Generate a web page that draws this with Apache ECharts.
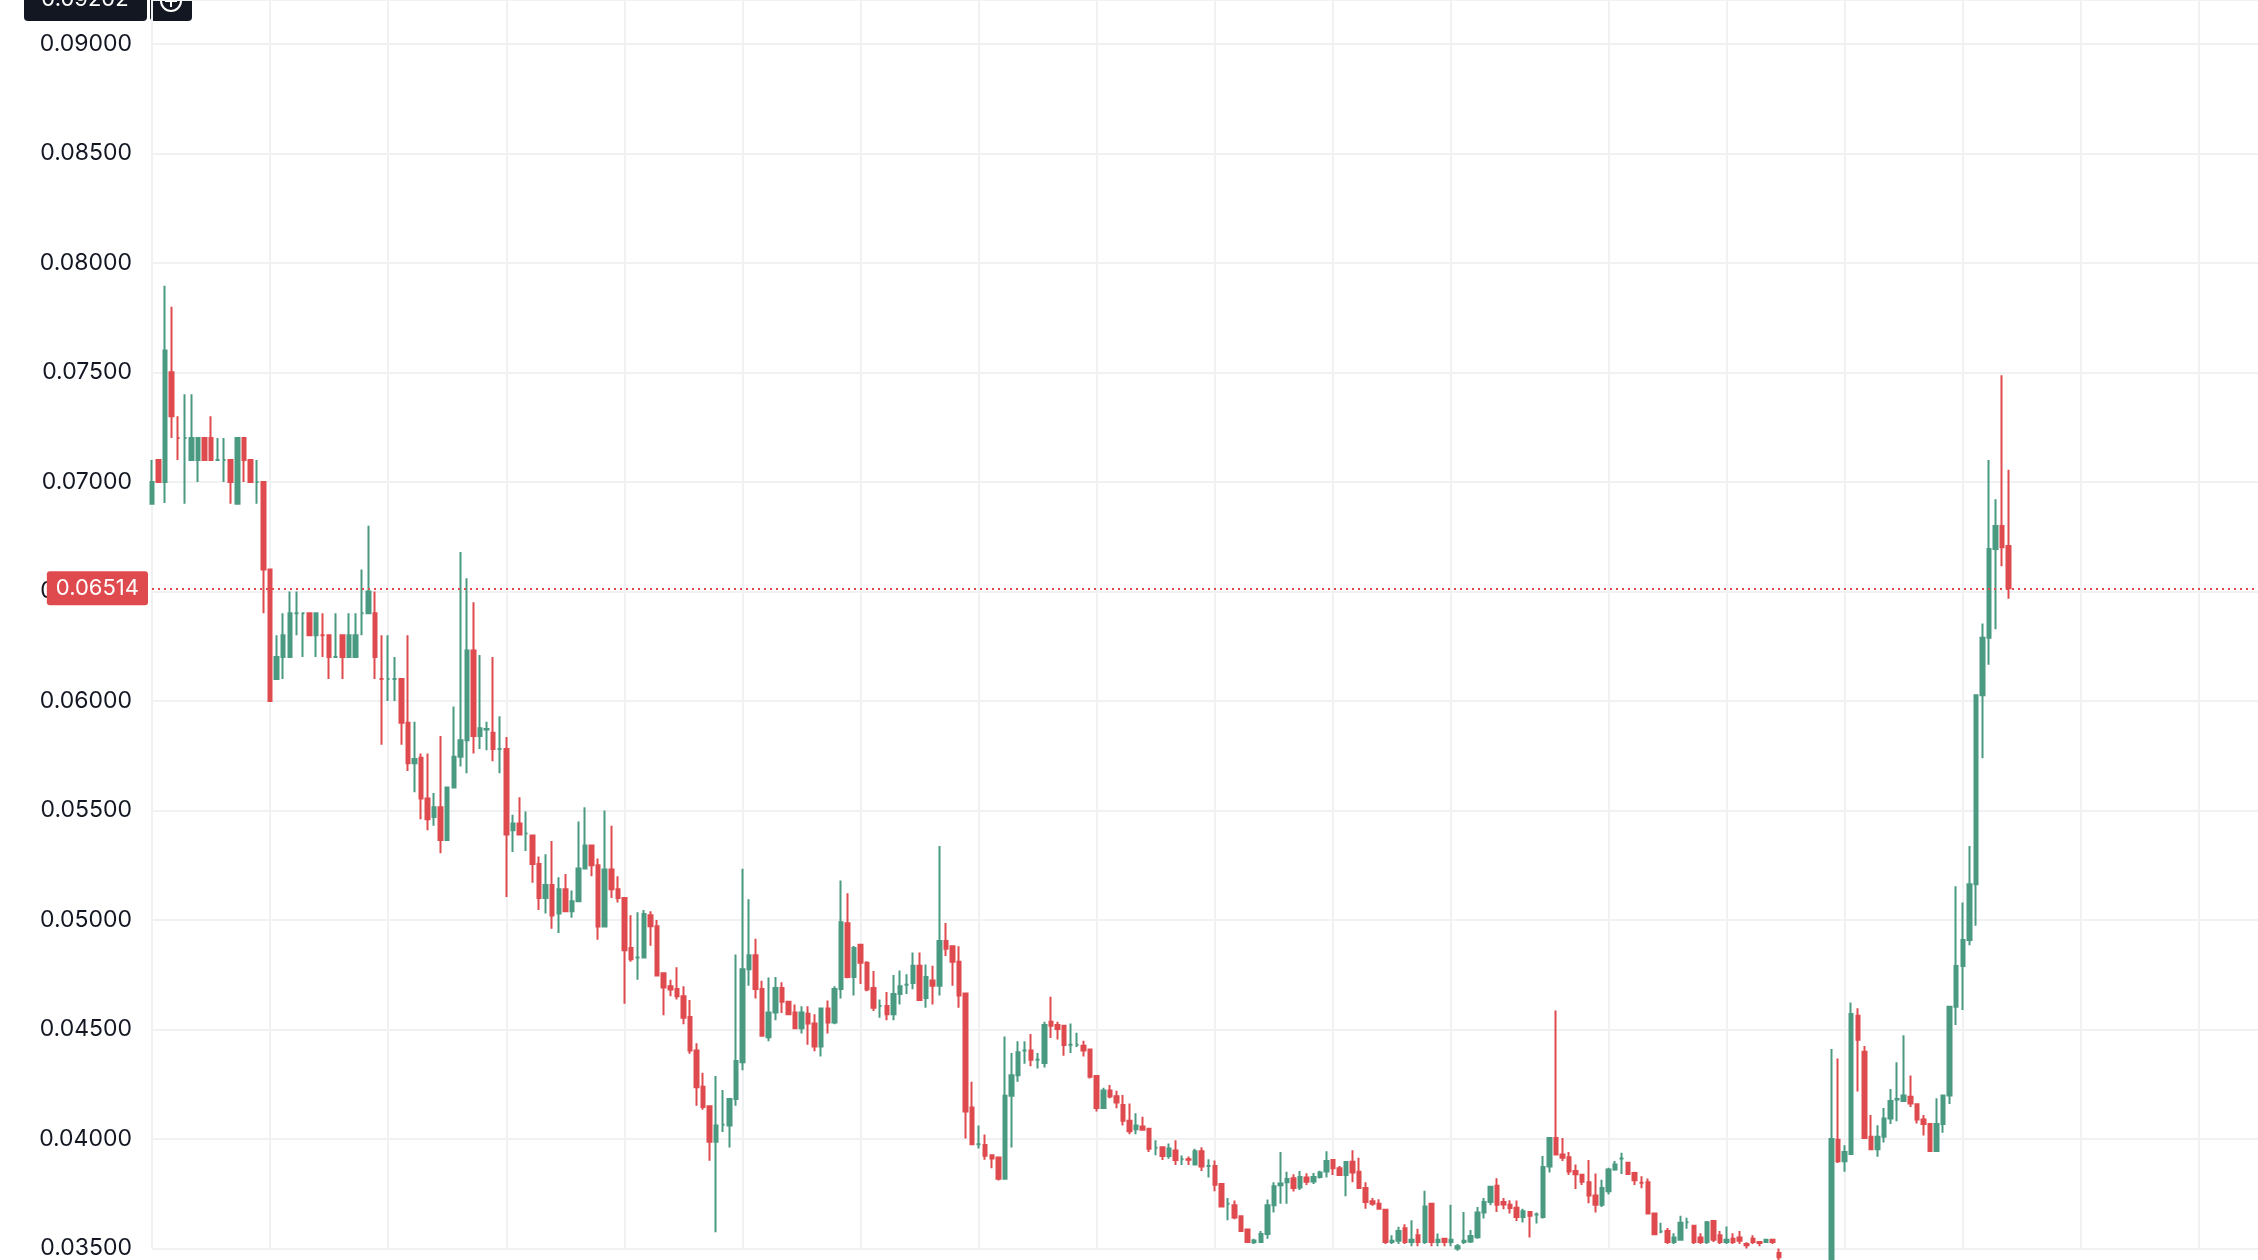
<!DOCTYPE html>
<html lang="en">
<head>
	<meta charset="UTF-8">
	<title>Candles</title>
	<style>
		html, body { margin: 0; padding: 0; background: #fff; }
		#box { width: 2258px; height: 1260px; }
	</style>
</head>
<body>
	<div id="box"></div>
	<script src="https://cdn.jsdelivr.net/npm/echarts@6/dist/echarts.min.js"></script>
	<script>
		// prices in units of 0.00001
		var opens = [6900,7100,7000,7500,7200,7200,7100,7100,7200,7200,7100,7100,7100,6900,7200,7100,7000,7000,6600,6100,
			6200,6200,6400,6400,6400,6300,6300,6300,6200,6300,6200,6200,6400,6400,6400,6100,6100,6100,6100,5900,
			5715,5740,5555,5470,5515,5365,5605,5745,5820,6230,5840,5870,5855,5780,5780,5410,5440,5395,5385,5255,
			5100,5160,5030,5140,5040,5085,5235,5340,5250,4970,5230,5140,5100,4872,4829,4829,5022,4971,4757,4697,
			4685,4652,4557,4404,4239,4149,3987,4065,4062,4183,4350,4775,4839,4685,4465,4577,4689,4626,4577,4506,
			4572,4527,4422,4596,4532,4685,4985,4739,4887,4805,4689,4607,4607,4569,4662,4704,4712,4791,4644,4724,
			4700,4904,4880,4809,4664,4144,3976,3973,3926,3916,3818,4197,4291,4404,4404,4362,4347,4535,4520,4517,
			4430,4430,4426,4408,4288,4141,4221,4195,4155,4083,4045,4057,4047,3960,3962,3922,3947,3907,3907,3884,
			3944,3877,3877,3794,3704,3697,3647,3587,3528,3530,3566,3697,3789,3802,3821,3779,3824,3806,3826,3851,
			3904,3866,3835,3896,3850,3776,3716,3704,3677,3530,3535,3592,3530,3560,3530,3704,3530,3545,3530,3500,
			3530,3532,3551,3664,3712,3787,3712,3700,3686,3644,3667,3655,3644,3874,4005,3929,3917,3854,3837,3802,
			3742,3700,3761,3861,3911,3892,3845,3800,3803,3660,3578,3580,3530,3540,3620,3604,3550,3530,3625,3560,
			3530,3545,3550,3520,3545,3530,3530,3540,3480,3460,3470,3450,3440,3420,3430,3410,3400,3996,3898,3932,
			4563,4398,4010,3953,4010,4094,4180,4173,4193,4159,4089,4068,3945,4068,4199,4604,4790,4908,5163,6026,
			6288,6694,6798,6707];
		var closes = [7000,7000,7600,7300,7200,7200,7200,7200,7100,7100,7100,7100,7000,7200,7100,7000,7000,6600,6000,6200,
			6300,6400,6400,6400,6300,6400,6300,6200,6200,6200,6300,6300,6400,6500,6200,6100,6100,6100,5900,5715,
			5735,5555,5460,5515,5365,5605,5745,5820,6230,5840,5875,5872,5780,5780,5390,5440,5390,5395,5255,5100,
			5160,5020,5140,5040,5085,5235,5340,5250,4970,5230,5140,5100,4862,4821,4829,5027,4971,4746,4692,4682,
			4652,4554,4404,4236,4146,3987,4062,4065,4183,4356,4775,4839,4685,4471,4577,4689,4626,4569,4506,4577,
			4527,4422,4596,4532,4685,4990,4739,4872,4805,4682,4599,4607,4569,4662,4697,4704,4791,4634,4739,4700,
			4904,4869,4809,4655,4126,3976,3976,3923,3911,3818,4197,4291,4396,4404,4362,4362,4520,4517,4502,4429,
			4430,4430,4404,4284,4141,4221,4194,4167,4083,4035,4062,4042,3955,3960,3922,3957,3904,3907,3905,3944,
			3874,3877,3791,3692,3704,3641,3580,3530,3537,3566,3697,3784,3797,3817,3776,3827,3805,3827,3847,3899,
			3866,3835,3895,3847,3776,3712,3704,3682,3530,3535,3580,3530,3540,3530,3692,3530,3540,3530,3540,3510,
			3535,3557,3664,3712,3782,3700,3701,3685,3644,3670,3649,3655,3872,4005,3929,3914,3851,3839,3805,3742,
			3700,3776,3861,3884,3911,3840,3812,3800,3660,3565,3578,3530,3550,3617,3620,3530,3530,3620,3540,3530,
			3540,3530,3535,3515,3530,3525,3540,3530,3460,3470,3450,3440,3420,3430,3410,3400,4000,3898,3940,4571,
			4453,4005,3953,4010,4094,4173,4182,4199,4162,4089,4068,3945,4068,4199,4604,4790,4908,5163,6026,6288,
			6694,6798,6702,6514];
		var lows = [6900,7000,6904,7200,7100,6900,7100,7000,7100,7100,7100,7000,6900,6900,7000,7000,6900,6400,6000,6100,
			6100,6200,6300,6200,6300,6200,6200,6100,6200,6100,6200,6200,6300,6400,6100,5800,6000,6000,5800,5680,
			5583,5460,5410,5430,5305,5365,5605,5700,5670,5760,5780,5775,5725,5670,5105,5310,5390,5315,5170,5045,
			5030,4960,4940,5040,5010,5085,5235,5200,4910,4970,5100,5080,4617,4809,4727,4829,4882,4746,4565,4652,
			4637,4524,4389,4152,4134,3901,3574,4032,3961,4152,4314,4700,4641,4471,4446,4542,4575,4566,4506,4482,
			4430,4401,4377,4482,4524,4641,4734,4655,4707,4674,4584,4554,4542,4542,4614,4662,4684,4634,4599,4614,
			4655,4835,4700,4599,4002,3976,3956,3905,3866,3811,3818,3961,4261,4344,4332,4322,4326,4461,4454,4380,
			4393,4420,4377,4276,4126,4141,4186,4140,4062,4022,4022,4042,3941,3926,3904,3910,3881,3881,3881,3884,
			3854,3824,3761,3690,3629,3634,3577,3527,3520,3525,3544,3664,3704,3704,3760,3767,3790,3795,3820,3824,
			3835,3835,3739,3802,3776,3682,3695,3682,3520,3520,3520,3520,3510,3510,3520,3510,3510,3510,3510,3490,
			3520,3525,3545,3637,3697,3667,3679,3660,3625,3619,3550,3614,3637,3847,3929,3899,3836,3772,3790,3707,
			3664,3690,3746,3855,3840,3835,3790,3775,3660,3565,3570,3520,3520,3535,3590,3520,3520,3520,3530,3520,
			3520,3520,3520,3500,3520,3510,3525,3520,3440,3430,3420,3410,3400,3390,3380,3370,3400,3890,3850,3932,
			4217,4000,3953,3919,3984,4068,4081,4173,4146,4071,4016,3945,3945,4029,4160,4520,4589,4885,4974,5738,
			6165,6327,6615,6466];
		var highs = [7100,7100,7895,7800,7300,7400,7400,7200,7200,7300,7200,7200,7100,7200,7200,7100,7100,7000,6600,6300,
			6400,6500,6500,6400,6400,6400,6400,6300,6400,6300,6400,6400,6600,6800,6500,6300,6300,6200,6100,6300,
			5905,5760,5760,5580,5840,5605,5975,6680,6560,6450,6210,5905,6200,5930,5835,5480,5560,5495,5385,5290,
			5300,5360,5195,5210,5135,5450,5515,5340,5280,5500,5430,5200,5100,5022,5035,5045,5040,5000,4757,4727,
			4784,4697,4635,4437,4302,4149,4287,4224,4183,4842,5234,5095,4914,4722,4737,4739,4716,4626,4614,4606,
			4606,4569,4596,4632,4697,5180,5122,4881,4887,4812,4767,4637,4671,4749,4769,4752,4851,4851,4797,4791,
			5338,4986,4880,4880,4664,4261,4062,4021,3926,3916,4468,4392,4446,4446,4479,4392,4535,4649,4535,4517,
			4527,4485,4449,4408,4288,4234,4246,4220,4201,4162,4117,4102,4047,3994,3962,3979,3994,3925,3920,3955,
			3962,3907,3902,3794,3731,3719,3647,3587,3544,3580,3724,3802,3940,3850,3839,3854,3844,3845,3855,3944,
			3904,3877,3895,3949,3914,3802,3730,3725,3677,3560,3599,3611,3629,3590,3764,3704,3569,3547,3700,3520,
			3667,3584,3689,3731,3782,3821,3731,3720,3719,3682,3670,3664,3922,4005,4587,4005,3940,3884,3840,3904,
			3842,3814,3869,3900,3937,3895,3850,3830,3820,3660,3617,3594,3570,3650,3640,3604,3570,3625,3625,3580,
			3600,3570,3580,3528,3560,3533,3545,3545,3500,3490,3495,3480,3470,3460,3460,3450,4411,4368,3971,4623,
			4597,4424,4110,4063,4141,4228,4350,4474,4290,4159,4110,4068,4186,4199,4604,5154,5080,5338,6026,6353,
			7100,6921,7487,7055];
		var slotCount = 322;
		var gridStarts = [0, 18, 36, 54, 72, 90, 108, 126, 144, 162, 180, 198, 222, 240, 258, 276, 294, 312];
		var lastPrice = 0.06514;

		var categories = [];
		for (var i = 0; i < slotCount; i++) categories.push(String(i));
		var candles = opens.map(function (o, i) {
			return [o / 1e5, closes[i] / 1e5, lows[i] / 1e5, highs[i] / 1e5];
		});

		var up = '#4a9a82', down = '#df4a4f', gridColor = '#f0f1f3';
		var myChart = echarts.init(document.getElementById('box'));
		myChart.setOption({
			animation: false,
			grid: { left: 152, right: 0, top: 0, height: 1266 },
			xAxis: {
				type: 'category',
				data: categories,
				boundaryGap: false,
				axisLine: { show: false },
				axisTick: { show: false },
				axisLabel: { show: false },
				splitLine: {
					show: true,
					interval: function (idx) { return gridStarts.indexOf(idx) >= 0; },
					lineStyle: { color: gridColor, width: 2 }
				}
			},
			yAxis: {
				type: 'value',
				min: 0.035,
				max: 0.092,
				interval: 0.005,
				axisLine: { show: false },
				axisTick: { show: false },
				axisLabel: {
					showMaxLabel: false,
					formatter: function (v) { return v.toFixed(5); },
					color: '#131722',
					fontFamily: 'Inter',
					fontSize: 23,
					margin: 20
				},
				splitLine: { lineStyle: { color: gridColor, width: 2 } }
			},
			series: [{
				type: 'candlestick',
				data: candles,
				barWidth: 4,
				itemStyle: {
					color: up, color0: down,
					borderColor: up, borderColor0: down,
					borderWidth: 2
				},
				markLine: {
					symbol: 'none',
					silent: true,
					data: [[
						{ coord: [categories[0], lastPrice] },
						{ coord: [categories[slotCount - 1], lastPrice] }
					]],
					lineStyle: { color: down, type: [2, 4], width: 2 },
					label: {
						position: 'start',
						distance: 4,
						formatter: lastPrice.toFixed(5),
						color: '#fff',
						backgroundColor: down,
						fontFamily: 'Inter',
						fontSize: 22,
						padding: [6, 9],
						borderRadius: 3
					}
				}
			}],
			graphic: [
				{ type: 'rect', shape: { x: 24, y: -20, width: 123, height: 41, r: 4 }, style: { fill: '#131722' } },
				{ type: 'rect', shape: { x: 150, y: -20, width: 42, height: 41, r: 4 }, style: { fill: '#131722' } },
				{ type: 'text', x: 85, y: 10, style: { text: '0.09202', fill: '#fff', font: '22px Inter', align: 'center', verticalAlign: 'bottom' } },
				{ type: 'circle', shape: { cx: 171, cy: 1, r: 10 }, style: { fill: 'none', stroke: '#fff', lineWidth: 2 } },
				{ type: 'line', shape: { x1: 171, y1: -5, x2: 171, y2: 7 }, style: { stroke: '#fff', lineWidth: 2 } },
				{ type: 'line', shape: { x1: 165, y1: 1, x2: 177, y2: 1 }, style: { stroke: '#fff', lineWidth: 2 } }
			]
		});
	</script>
</body>
</html>
